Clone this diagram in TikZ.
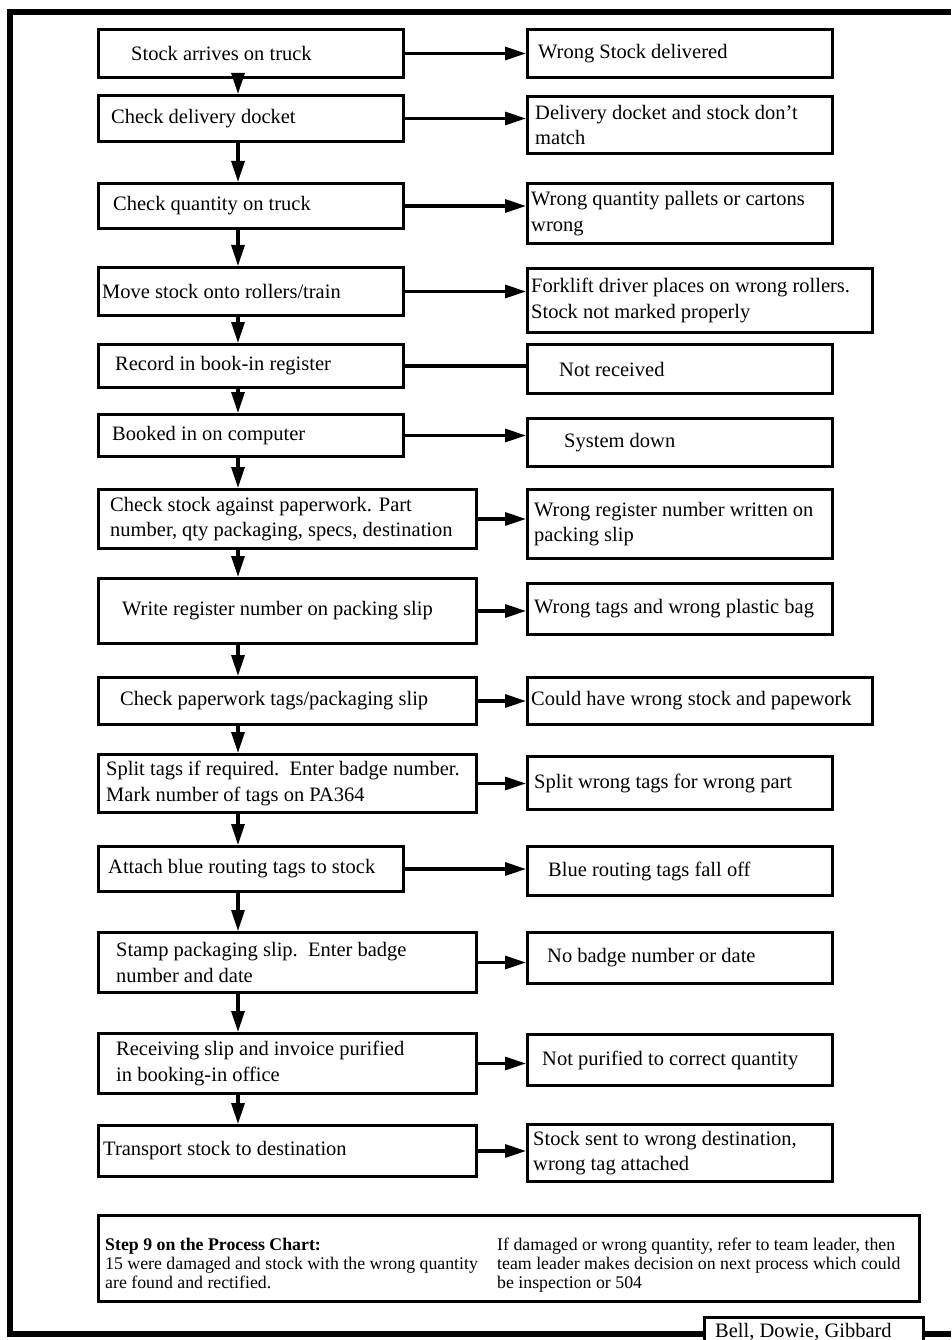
\documentclass[tikz,border=0pt]{standalone}
\usepackage{fontspec}
\setmainfont{Liberation Serif}
\usetikzlibrary{arrows.meta}

% box with its text set as a left-aligned label: name, x, y, width, height, indent, text
\newcommand\flowbox[7]{%
  \node[stepbox, minimum width=#4pt, minimum height=#5pt,
        label={[boxtext, name=#1-t, xshift=#6pt]west:#7}] (#1) at (#2,#3) {};}

\tikzset{
  stepbox/.style={draw, line width=3pt, anchor=north west, inner sep=0pt},
  boxtext/.style={anchor=west, align=left, inner sep=0pt,
                  font=\fontsize{20.5}{25.5}\selectfont},
  flow/.style={line width=3.2pt, -{Triangle[length=21pt,width=13pt]}},
  link/.style={line width=3.2pt},
  frame/.style={line width=6pt},
  notetext/.style={anchor=north west, align=left, inner sep=0pt,
                   font=\fontsize{17.8}{19}\selectfont},
}

\begin{document}
\begin{tikzpicture}[x=1pt,y=-1pt]
\useasboundingbox (0,0) rectangle (951,1340);
\fill[white] (0,0) rectangle (951,1340);

% process steps (left column)
\flowbox{l1}{97}{28}{305}{48}{34}{Stock arrives on truck}
\flowbox{l2}{97}{94}{305}{46}{14}{Check delivery docket}
\flowbox{l3}{97}{182}{305}{45}{16}{Check quantity on truck}
\flowbox{l4}{97}{266}{305}{48}{5}{Move stock onto rollers/train}
\flowbox{l5}{97}{343}{305}{43}{18}{Record in book-in register}
\flowbox{l6}{97}{413}{305}{42}{15}{Booked in on computer}
\flowbox{l7}{97}{488}{378}{59}{13}{Check stock against paperwork. Part\\number, qty packaging, specs, destination}
\flowbox{l8}{97}{577}{378}{65}{25}{Write register number on packing slip}
\flowbox{l9}{97}{676}{378}{47}{23}{Check paperwork tags/packaging slip}
\flowbox{l10}{97}{753}{378}{58}{9}{Split tags if required.\ \ Enter badge number.\\Mark number of tags on PA364}
\flowbox{l11}{97}{845}{305}{45}{11}{Attach blue routing tags to stock}
\flowbox{l12}{97}{931}{378}{60}{19}{Stamp packaging slip.\ \ Enter badge\\number and date}
\flowbox{l13}{97}{1032}{378}{60}{19}{Receiving slip and invoice purified\\in booking-in office}
\flowbox{l14}{97}{1124}{378}{51}{6}{Transport stock to destination}

% possible failures (right column)
\flowbox{r1}{526}{28}{305}{48}{12}{Wrong Stock delivered}
\flowbox{r2}{526}{95}{305}{57}{9}{Delivery docket and stock don't\\match}
\flowbox{r3}{526}{182}{305}{60}{5}{Wrong quantity pallets or cartons\\wrong}
\flowbox{r4}{526}{267}{345}{64}{5}{Forklift driver places on wrong rollers.\\Stock not marked properly}
\flowbox{r5}{526}{343}{305}{49}{33}{Not received}
\flowbox{r6}{526}{417}{305}{48}{38}{System down}
\flowbox{r7}{526}{488}{305}{69}{8}{Wrong register number written on\\packing slip}
\flowbox{r8}{526}{582}{305}{51}{8}{Wrong tags and wrong plastic bag}
\flowbox{r9}{526}{676}{345}{47}{5}{Could have wrong stock and papework}
\flowbox{r10}{526}{755}{305}{53}{8}{Split wrong tags for wrong part}
\flowbox{r11}{526}{845}{305}{49}{22}{Blue routing tags fall off}
\flowbox{r12}{526}{931}{305}{51}{21}{No badge number or date}
\flowbox{r13}{526}{1033}{305}{51}{16}{Not purified to correct quantity}
\flowbox{r14}{526}{1123}{305}{57}{7}{Stock sent to wrong destination,\\wrong tag attached}

% vertical flow between steps
\coordinate (spine) at (238,0);
\foreach \a/\b in {l1/l2,l2/l3,l3/l4,l4/l5,l5/l6,l6/l7,l7/l8,l8/l9,l9/l10,l10/l11,l11/l12,l12/l13,l13/l14}
  \draw[flow] (\a.south -| spine) -- (\b.north -| spine);

% each step to its failure
\foreach \i in {1,2,3,4,6,7,8,9,10,11,12,13,14}
  \draw[flow] (l\i.east) -- (l\i.east -| r\i.west);
\draw[link] (l5.east) -- (l5.east -| r5.west);

% note box
\node[stepbox, minimum width=821pt, minimum height=86pt] (note) at (97,1214) {};
\node[notetext] (noteL) at (105,1238) {\textbf{Step 9 on the Process Chart:}\\15 were damaged and stock with the wrong quantity\\are found and rectified.};
\node[notetext] (noteR) at (497,1238) {If damaged or wrong quantity, refer to team leader, then\\team leader makes decision on next process which could\\be inspection or 504};

% authors tab and outer frame
\node[stepbox, minimum width=219pt, minimum height=34pt,
      label={[boxtext, name=auth-t, xshift=12pt, yshift=3pt]west:Bell, Dowie, Gibbard}] (auth) at (703,1316) {};
\coordinate (ftl) at (10,12);
\coordinate (ftr) at (951,12);
\coordinate (fbl) at (10,1334);
\coordinate (fbr) at (951,1334);
\draw[frame] (ftr) -- (ftl) -- (fbl) -- (fbl -| auth.west);
\draw[frame] (fbl -| auth.east) -- (fbr);
\end{tikzpicture}
\end{document}
